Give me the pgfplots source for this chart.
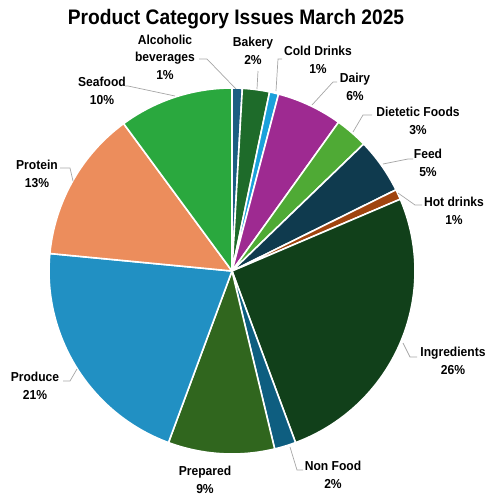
\documentclass[border=0pt]{standalone}
\usepackage{graphicx}
\usepackage{pgfplots}
\pgfplotsset{compat=1.18}
\usepackage{pgfplotstable}
\usepackage{fontspec}
\setmainfont{Liberation Sans}
\newfontfamily\condfont[FakeStretch=0.93]{Liberation Sans}
\newfontfamily\titlefont[FakeStretch=0.915]{Liberation Sans}

\definecolor{c0}{HTML}{1B5E82}
\definecolor{c1}{HTML}{1E6B2A}
\definecolor{c2}{HTML}{1BA1DB}
\definecolor{c3}{HTML}{9E2A91}
\definecolor{c4}{HTML}{4FAA35}
\definecolor{c5}{HTML}{0F3A4E}
\definecolor{c6}{HTML}{A0440F}
\definecolor{c7}{HTML}{11401A}
\definecolor{c8}{HTML}{0E5E80}
\definecolor{c9}{HTML}{30661E}
\definecolor{c10}{HTML}{2190C3}
\definecolor{c11}{HTML}{EC8D5C}
\definecolor{c12}{HTML}{2AA83E}
\definecolor{leader}{HTML}{A6A6A6}

\pgfplotstableread[col sep=comma]{
name,value
Alcoholic beverages,0.9
Bakery,2.4
Cold Drinks,0.8
Dairy,5.8
Dietetic Foods,2.9
Feed,4.9
Hot drinks,0.9
Ingredients,25.8
Non Food,1.9
Prepared,9.4
Produce,20.9
Protein,13.4
Seafood,10.1
}\piedata

\begin{document}
\begin{tikzpicture}
% compute slice angles from the data
\pgfplotstablegetrowsof{\piedata}
\pgfmathtruncatemacro{\nrows}{\pgfplotsretval-1}
\gdef\total{0}
\foreach \i in {0,...,\nrows}{%
  \pgfplotstablegetelem{\i}{value}\of\piedata
  \pgfmathsetmacro{\tmpsum}{\total+\pgfplotsretval}%
  \xdef\total{\tmpsum}%
}
\gdef\cum{0}
\foreach \i in {0,...,\nrows}{%
  \pgfplotstablegetelem{\i}{value}\of\piedata
  \pgfmathsetmacro{\sa}{90-360*(\cum/\total)}%
  \pgfmathsetmacro{\tmpcum}{\cum+\pgfplotsretval}%
  \xdef\cum{\tmpcum}%
  \pgfmathsetmacro{\ea}{90-360*(\cum/\total)}%
  \expandafter\xdef\csname sa\i\endcsname{\sa}%
  \expandafter\xdef\csname ea\i\endcsname{\ea}%
}
\begin{axis}[
  x=1pt, y=1pt,
  xmin=0, xmax=490, ymin=0, ymax=496,
  y dir=reverse,
  scale only axis,
  hide axis,
  clip=false,
]
\pgfplotsinvokeforeach{0,...,12}{%
  \fill[c#1, draw=white, line width=1.6pt, line join=round]
    (axis cs:232,271) -- ++(\csname sa#1\endcsname:183pt)
    arc[start angle=\csname sa#1\endcsname, end angle=\csname ea#1\endcsname, radius=183pt] -- cycle;
}
% leader lines
\begin{scope}[leader, line width=0.7pt]
\draw (axis cs:236,89) -- (axis cs:207,59) -- (axis cs:199,59);
\draw (axis cs:257,89) -- (axis cs:258,71);
\draw (axis cs:276,91) -- (axis cs:278,59) -- (axis cs:282,59);
\draw (axis cs:312,105) -- (axis cs:333,82) -- (axis cs:337,82);
\draw (axis cs:353,132) -- (axis cs:363,115) -- (axis cs:372,115);
\draw (axis cs:383,164) -- (axis cs:408,159) -- (axis cs:413,159);
\draw (axis cs:398,193) -- (axis cs:415,205) -- (axis cs:422,205);
\draw (axis cs:403,343) -- (axis cs:410,357) -- (axis cs:417,357);
\draw (axis cs:290,447) -- (axis cs:297,470) -- (axis cs:303,470);
\draw (axis cs:77,369) -- (axis cs:70,381) -- (axis cs:63,381);
\draw (axis cs:73,181) -- (axis cs:70,168) -- (axis cs:60,168);
\draw (axis cs:175,96) -- (axis cs:128,86) -- (axis cs:125,86);
\end{scope}
% labels
\begin{scope}[every node/.style={align=center, inner sep=0pt, font=\condfont\fontsize{13}{17.5}\selectfont\bfseries}]
\node at (axis cs:165,57) {Alcoholic\\beverages\\1\%};
\node at (axis cs:253,51) {Bakery\\2\%};
\node at (axis cs:318,60) {Cold Drinks\\1\%};
\node at (axis cs:355,87) {Dairy\\6\%};
\node at (axis cs:418,121) {Dietetic Foods\\3\%};
\node at (axis cs:428,163) {Feed\\5\%};
\node at (axis cs:454,211) {Hot drinks\\1\%};
\node at (axis cs:453,361) {Ingredients\\26\%};
\node at (axis cs:333,475) {Non Food\\2\%};
\node at (axis cs:205,480) {Prepared\\9\%};
\node at (axis cs:35,386) {Produce\\21\%};
\node at (axis cs:37,174) {Protein\\13\%};
\node at (axis cs:102,91) {Seafood\\10\%};
\end{scope}
\node[inner sep=0pt, font=\titlefont\fontsize{21}{24}\selectfont\bfseries] at (axis cs:236,19)
  {Product Category Issues March 2025};
\end{axis}
\path[use as bounding box] (current axis.south west) rectangle (current axis.north east);
\end{tikzpicture}
\end{document}
